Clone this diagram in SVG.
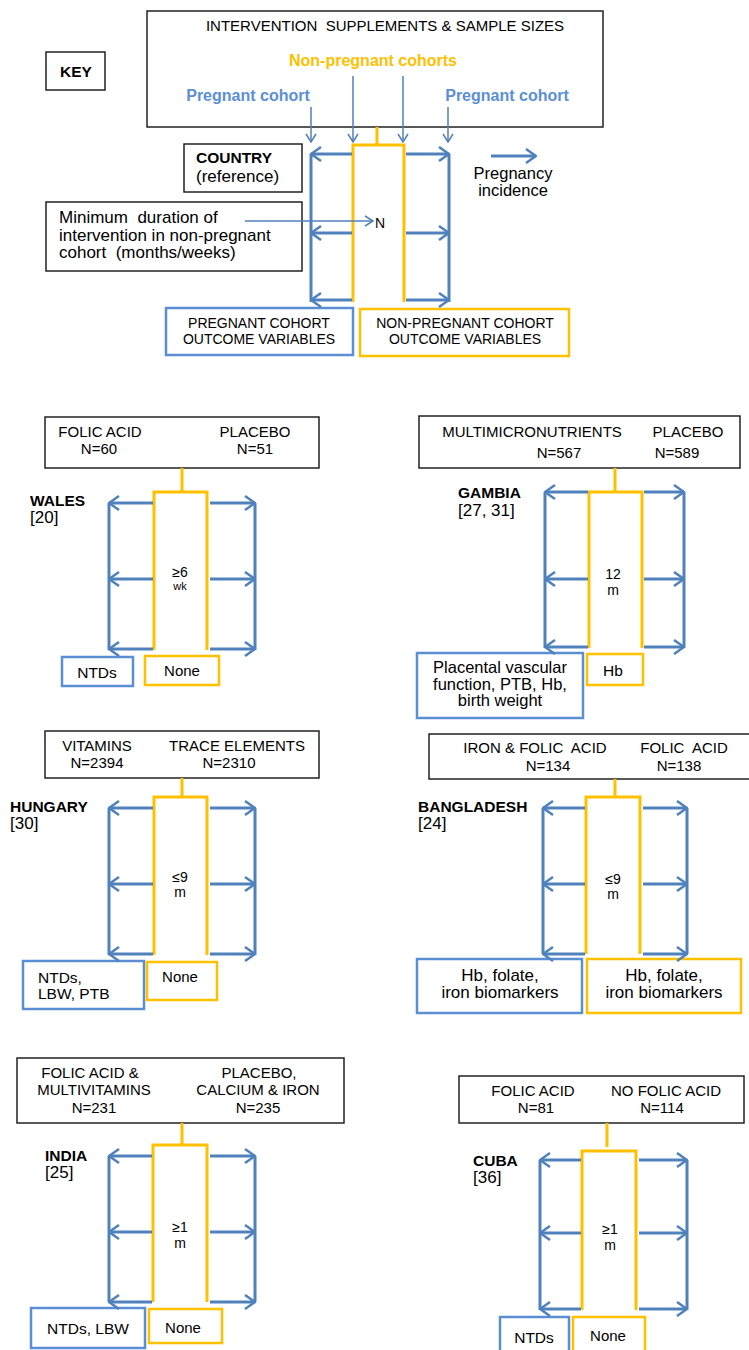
<svg xmlns="http://www.w3.org/2000/svg" width="749" height="1350" viewBox="0 0 749 1350">
<style>
text{font-family:"Liberation Sans",Arial,sans-serif;fill:#000;white-space:pre;}
.t{font-size:15px;text-anchor:middle;}
.k{font-size:14px;text-anchor:middle;}
.b{font-size:15.5px;font-weight:bold;}
.r{font-size:17px;}
.m{font-size:17px;text-anchor:middle;}
.d{font-size:14px;text-anchor:middle;}
.s{font-size:11px;text-anchor:middle;}
.o{font-size:15.5px;text-anchor:middle;}
.box{fill:#fff;stroke:#222;stroke-width:1.5;}
.bbox{fill:#fff;stroke:#5B8FD3;stroke-width:2.5;}
.obox{fill:#fff;stroke:#FFC000;stroke-width:2.5;}
.or{fill:none;stroke:#FFC000;stroke-width:3;}
.bl{fill:none;stroke:#4F81BD;stroke-width:3;}
.ar{fill:none;stroke:#4F81BD;stroke-width:3;marker-end:url(#ah);}
.tn{fill:none;stroke:#4F81BD;stroke-width:1.5;marker-end:url(#as);}
</style>
<defs>
<marker id="ah" viewBox="0 0 12 16" refX="11" refY="8" markerWidth="12" markerHeight="16" orient="auto" markerUnits="userSpaceOnUse"><path d="M1,1 L11,8 L1,15" fill="none" stroke="#4F81BD" stroke-width="2.5"/></marker>
<marker id="as" viewBox="0 0 10 12" refX="9" refY="6" markerWidth="10" markerHeight="12" orient="auto" markerUnits="userSpaceOnUse"><path d="M1,1 L9,6 L1,11" fill="none" stroke="#4F81BD" stroke-width="1.5"/></marker>
</defs>

<!-- KEY -->
<g id="key-label"><rect class="box" x="46" y="52" width="59" height="38"/><text class="b" x="76" y="77" text-anchor="middle">KEY</text></g>
<g id="key-header">
<rect class="box" x="147" y="11" width="456" height="116"/>
<text class="t" x="385" y="31" xml:space="preserve">INTERVENTION  SUPPLEMENTS &amp; SAMPLE SIZES</text>
<text x="373" y="66" style="font-size:16px;font-weight:bold;fill:#FFC000;text-anchor:middle">Non-pregnant cohorts</text>
<text x="248" y="101" style="font-size:16px;font-weight:bold;fill:#5B8FD6;text-anchor:middle">Pregnant cohort</text>
<text x="507" y="101" style="font-size:16px;font-weight:bold;fill:#5B8FD6;text-anchor:middle">Pregnant cohort</text>
</g>
<g id="key-country"><rect class="box" x="184" y="144" width="118" height="48"/><text class="b" x="196" y="163">COUNTRY</text><text class="r" x="196" y="182">(reference)</text></g>
<g id="key-duration"><rect class="box" x="46" y="202" width="256" height="69"/><text class="r" x="59" y="223" xml:space="preserve">Minimum  duration of</text><text class="r" x="59" y="241">intervention in non-pregnant</text><text class="r" x="59" y="258" xml:space="preserve">cohort  (months/weeks)</text></g>
<g id="key-structure">
<path class="or" d="M377,127 V145 M353,302 V145 H404 V302"/>
<path class="bl" d="M311,154 V302 M449,154 V302"/>
<text x="375" y="228" style="font-size:14px">N</text>
</g>
<g id="key-incidence"><text x="513" y="179" style="font-size:16.5px;text-anchor:middle">Pregnancy</text><text x="513" y="196" style="font-size:16.5px;text-anchor:middle">incidence</text></g>
<g id="key-out-p"><rect class="bbox" x="166" y="308" width="187" height="47"/><text class="k" x="259" y="328">PREGNANT COHORT</text><text class="k" x="259" y="344">OUTCOME VARIABLES</text></g>
<g id="key-out-np"><rect class="obox" x="360" y="309" width="209" height="47"/><text class="k" x="465" y="328">NON-PREGNANT COHORT</text><text class="k" x="465" y="344">OUTCOME VARIABLES</text></g>

<!-- WALES -->
<g id="wales">
<rect class="box" x="45" y="417" width="274" height="51"/>
<text class="t" x="100" y="437">FOLIC ACID</text><text class="t" x="99" y="454">N=60</text>
<text class="t" x="255" y="437">PLACEBO</text><text class="t" x="255" y="454">N=51</text>
<path class="or" d="M182,468 V492 M154,650 V492 H207 V650"/>
<path class="bl" d="M109,503 V650 M255,503 V650"/>
<text class="b" x="30" y="506">WALES</text><text class="r" x="30" y="523">[20]</text>
<text class="d" x="180" y="577">≥6</text><text class="s" x="180" y="590">wk</text>
<rect class="bbox" x="62" y="657" width="71" height="29"/><text class="o" x="97" y="678">NTDs</text>
<rect class="obox" x="145" y="656" width="74" height="29"/><text class="t" x="182" y="676">None</text>
</g>

<!-- GAMBIA -->
<g id="gambia">
<rect class="box" x="419" y="416" width="321" height="52"/>
<text class="t" x="532" y="437">MULTIMICRONUTRIENTS</text><text class="t" x="559" y="458">N=567</text>
<text class="t" x="688" y="437">PLACEBO</text><text class="t" x="677" y="458">N=589</text>
<path class="or" d="M615,468 V492 M589,648 V492 H642 V648"/>
<path class="bl" d="M545,492 V648 M684,492 V648"/>
<text class="b" x="458" y="498">GAMBIA</text><text class="r" x="458" y="516">[27, 31]</text>
<text class="d" x="613" y="579">12</text><text class="d" x="613" y="595">m</text>
<rect class="bbox" x="417" y="653" width="166" height="65"/>
<text class="m" x="500" y="673" style="font-size:16.5px">Placental vascular</text><text class="m" x="500" y="690" style="font-size:16.5px">function, PTB, Hb,</text><text class="m" x="500" y="706" style="font-size:16.5px">birth weight</text>
<rect class="obox" x="587" y="654" width="56" height="31"/><text class="o" x="613" y="676">Hb</text>
</g>

<!-- HUNGARY -->
<g id="hungary">
<rect class="box" x="45" y="731" width="274" height="47"/>
<text class="t" x="97" y="751">VITAMINS</text><text class="t" x="97" y="768">N=2394</text>
<text class="t" x="237" y="751">TRACE ELEMENTS</text><text class="t" x="229" y="768">N=2310</text>
<path class="or" d="M182,778 V797 M154,955 V797 H207 V955"/>
<path class="bl" d="M109,808 V955 M255,808 V955"/>
<text class="b" x="10" y="812">HUNGARY</text><text class="r" x="10" y="829">[30]</text>
<text class="d" x="180" y="882">≤9</text><text class="d" x="180" y="897">m</text>
<rect class="bbox" x="23" y="961" width="121" height="48"/>
<text class="o" x="38" y="983" style="text-anchor:start">NTDs,</text><text class="o" x="38" y="999" style="text-anchor:start">LBW, PTB</text>
<rect class="obox" x="147" y="962" width="70" height="38"/><text class="t" x="180" y="982">None</text>
</g>

<!-- BANGLADESH -->
<g id="bangladesh">
<rect class="box" x="429" y="734" width="322" height="45"/>
<text class="t" x="535" y="753" xml:space="preserve">IRON &amp; FOLIC  ACID</text><text class="t" x="548" y="771">N=134</text>
<text class="t" x="684" y="753" xml:space="preserve">FOLIC  ACID</text><text class="t" x="679" y="771">N=138</text>
<path class="or" d="M615,779 V797 M586,954 V797 H640 V954"/>
<path class="bl" d="M543,808 V954 M687,808 V954"/>
<text class="b" x="418" y="812">BANGLADESH</text><text class="r" x="418" y="829">[24]</text>
<text class="d" x="613" y="884">≤9</text><text class="d" x="613" y="899">m</text>
<rect class="bbox" x="417" y="959" width="165" height="54"/>
<text class="m" x="500" y="981">Hb, folate,</text><text class="m" x="500" y="998">iron biomarkers</text>
<rect class="obox" x="587" y="959" width="154" height="54"/>
<text class="m" x="664" y="981">Hb, folate,</text><text class="m" x="664" y="998">iron biomarkers</text>
</g>

<!-- INDIA -->
<g id="india">
<rect class="box" x="17" y="1058" width="327" height="65"/>
<text class="t" x="90" y="1078">FOLIC ACID &amp;</text><text class="t" x="94" y="1095">MULTIVITAMINS</text><text class="t" x="94" y="1113">N=231</text>
<text class="t" x="259" y="1078">PLACEBO,</text><text class="t" x="258" y="1095">CALCIUM &amp; IRON</text><text class="t" x="258" y="1113">N=235</text>
<path class="or" d="M182,1123 V1145 M153,1302 V1145 H207 V1302"/>
<path class="bl" d="M109,1156 V1302 M255,1156 V1302"/>
<text class="b" x="45" y="1161">INDIA</text><text class="r" x="45" y="1178">[25]</text>
<text class="d" x="180" y="1232">≥1</text><text class="d" x="180" y="1248">m</text>
<rect class="bbox" x="31" y="1308" width="114" height="40"/><text class="o" x="88" y="1334">NTDs, LBW</text>
<rect class="obox" x="149" y="1309" width="73" height="34"/><text class="t" x="183" y="1333">None</text>
</g>

<!-- CUBA -->
<g id="cuba">
<rect class="box" x="459" y="1076" width="285" height="47"/>
<text class="t" x="533" y="1096">FOLIC ACID</text><text class="t" x="536" y="1113">N=81</text>
<text class="t" x="666" y="1096">NO FOLIC ACID</text><text class="t" x="662" y="1113">N=114</text>
<path class="or" d="M607,1123 V1147 M582,1310 V1151 H636 V1310"/>
<path class="bl" d="M540,1160 V1310 M687,1160 V1310"/>
<text class="b" x="473" y="1166">CUBA</text><text class="r" x="473" y="1183">[36]</text>
<text class="d" x="610" y="1234">≥1</text><text class="d" x="610" y="1250">m</text>
<rect class="bbox" x="500" y="1317" width="69" height="40"/><text class="o" x="534" y="1343">NTDs</text>
<rect class="obox" x="573" y="1317" width="72" height="40"/><text class="t" x="608" y="1341">None</text>
</g>

<!-- connectors -->
<g id="connectors">
<path class="tn" d="M311,107 V142"/>
<path class="tn" d="M353,76 V142"/>
<path class="tn" d="M403,76 V142"/>
<path class="tn" d="M448,107 V142"/>
<path class="tn" d="M245,221 H373"/>
<path class="ar" d="M491,156 H536"/>
<path class="ar" d="M352,154 H311"/><path class="ar" d="M406,154 H449"/>
<path class="ar" d="M352,233 H311"/><path class="ar" d="M406,233 H449"/>
<path class="ar" d="M352,300 H311"/><path class="ar" d="M406,300 H449"/>
<path class="ar" d="M153,503 H109"/><path class="ar" d="M210,503 H255"/>
<path class="ar" d="M153,579 H109"/><path class="ar" d="M210,579 H255"/>
<path class="ar" d="M153,649 H109"/><path class="ar" d="M210,649 H255"/>
<path class="ar" d="M588,492 H545"/><path class="ar" d="M644,492 H684"/>
<path class="ar" d="M588,579 H545"/><path class="ar" d="M644,579 H684"/>
<path class="ar" d="M588,647 H545"/><path class="ar" d="M644,647 H684"/>
<path class="ar" d="M153,808 H109"/><path class="ar" d="M210,808 H255"/>
<path class="ar" d="M153,884 H109"/><path class="ar" d="M210,884 H255"/>
<path class="ar" d="M153,954 H109"/><path class="ar" d="M210,954 H255"/>
<path class="ar" d="M585,808 H543"/><path class="ar" d="M643,808 H687"/>
<path class="ar" d="M585,884 H543"/><path class="ar" d="M643,884 H687"/>
<path class="ar" d="M585,954 H543"/><path class="ar" d="M643,954 H687"/>
<path class="ar" d="M152,1156 H109"/><path class="ar" d="M210,1156 H255"/>
<path class="ar" d="M152,1232 H109"/><path class="ar" d="M210,1232 H255"/>
<path class="ar" d="M152,1302 H109"/><path class="ar" d="M210,1302 H255"/>
<path class="ar" d="M581,1160 H540"/><path class="ar" d="M639,1160 H687"/>
<path class="ar" d="M581,1233 H540"/><path class="ar" d="M639,1233 H687"/>
<path class="ar" d="M581,1309 H540"/><path class="ar" d="M639,1309 H687"/>
</g>
</svg>
